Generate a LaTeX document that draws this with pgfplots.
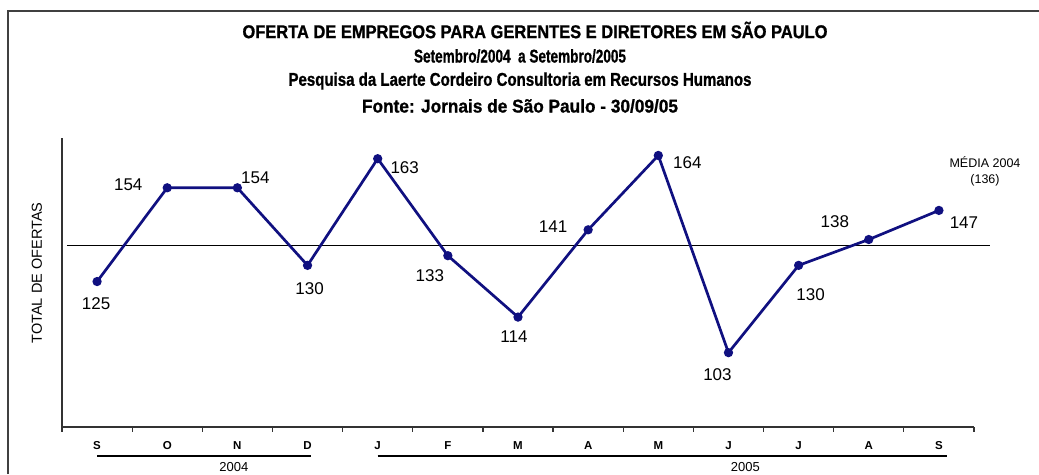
\documentclass[border=0pt]{standalone}
\usepackage{pgfplots}
\pgfplotsset{compat=1.18}
\usepackage{pgfplotstable}
\usepackage{fontspec}
\usepackage{graphicx}
\setmainfont{Liberation Sans}
\newfontfamily\tfont[FakeStretch=0.88, FakeBold=1]{Liberation Sans}
\definecolor{navyline}{RGB}{16,16,128}
\pgfplotstableread{
x y dx dy
0 125 -1 -22
1 154 -39 3
2 154 18 10
3 130 2 -23
4 163 27 -9
5 133 -18 -20
6 114 -4 -20
7 141 -35 3
8 164 29 -7
9 103 -11 -22
10 130 12 -29
11 138 -34 18
12 147 25 -12
}\ofertas
\begin{document}
\begin{tikzpicture}
\useasboundingbox (0,0) rectangle (1039pt,474pt);
\draw[line width=1.6pt, black!75] (8pt,0) -- (8pt,463pt) -- (1039pt,463pt);
% titles
\node[font=\tfont\bfseries\fontsize{18.5}{18.5}\selectfont] at (535pt,444pt) {\resizebox{585pt}{\height}{OFERTA DE EMPREGOS PARA GERENTES E DIRETORES EM SÃO PAULO}};
\node[font=\tfont\bfseries\fontsize{18.5}{18.5}\selectfont] at (520pt,418pt) {\resizebox{212pt}{\height}{Setembro/2004~ a Setembro/2005}};
\node[font=\tfont\bfseries\fontsize{18.5}{18.5}\selectfont] at (520pt,393pt) {\resizebox{463pt}{\height}{Pesquisa da Laerte Cordeiro Consultoria em Recursos Humanos}};
\node[font=\tfont\bfseries\fontsize{18.5}{18.5}\selectfont] at (520pt,368pt) {\resizebox{316pt}{\height}{Fonte: Jornais de São Paulo - 30/09/05}};
\node[rotate=90, font=\fontsize{14.5}{14.5}\selectfont] at (37pt,201pt) {TOTAL DE OFERTAS};
\node[font=\fontsize{12.5}{12.5}\selectfont] at (985pt,312pt) {MÉDIA 2004};
\node[font=\fontsize{12.5}{12.5}\selectfont] at (985pt,294pt) {(136)};
\begin{axis}[
  at={(62pt,47pt)}, anchor=south west,
  scale only axis, width=912pt, height=289pt,
  xmin=-0.5, xmax=12.5, ymin=80, ymax=169.4,
  axis x line=bottom, axis y line=left,
  axis line style={-, line width=1.4pt, black!80},
  ytick=\empty,
  xtick={0,...,12},
  xticklabels={S,O,N,D,J,F,M,A,M,J,J,A,S},
  major tick length=0pt,
  minor xtick={-0.5,0.5,...,12.5},
  minor tick length=4.5pt,
  tick align=outside,
  minor tick style={line width=1.2pt, black!80},
  xticklabel style={font=\bfseries\fontsize{11.5}{11.5}\selectfont, anchor=base, yshift=-22.5pt},
  clip=false,
]
\addplot[black, line width=1pt] coordinates {(-0.43,136) (12.73,136)};
\addplot[navyline, line width=2.7pt, mark=*, mark size=3.2pt,
  mark options={fill=navyline, draw=navyline},
  visualization depends on={\thisrow{dx} \as \dx},
  visualization depends on={\thisrow{dy} \as \dy},
  point meta=explicit symbolic,
  nodes near coords,
  nodes near coords style={anchor=center, xshift=\dx pt, yshift=\dy pt, text=black, font=\fontsize{17}{17}\selectfont},
] table[x=x, y=y, meta=y] {\ofertas};
\draw[line width=1.2pt] ([yshift=-29pt]axis cs:0,80) -- ([yshift=-29pt]axis cs:3.05,80);
\draw[line width=1.2pt] ([yshift=-29pt]axis cs:4,80) -- ([yshift=-29pt]axis cs:12.12,80);
\node[font=\fontsize{13}{13}\selectfont] at ([yshift=-40pt]axis cs:1.95,80) {2004};
\node[font=\fontsize{13}{13}\selectfont] at ([yshift=-40pt]axis cs:9.24,80) {2005};
\end{axis}
\end{tikzpicture}
\end{document}
